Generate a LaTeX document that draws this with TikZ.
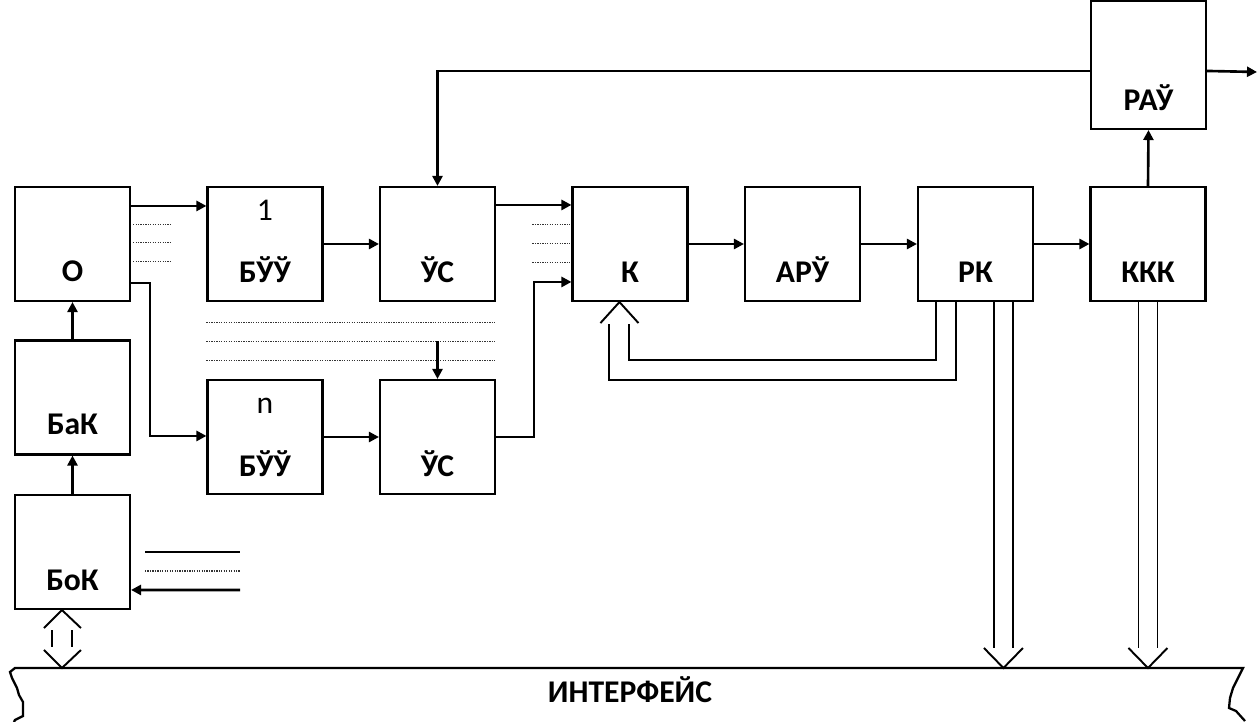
\documentclass[tikz,border=0pt]{standalone}
\usepackage{fontspec}
\setmainfont{Carlito}
\usetikzlibrary{calc,arrows.meta}
\begin{document}
\begin{tikzpicture}[x=0.02cm,y=-0.02cm,
  blk/.style={draw,line width=1.2pt,minimum width=2.3cm,minimum height=2.28cm,inner sep=0pt},
  lbl/.style={anchor=base,font=\fontsize{18}{21}\selectfont\bfseries,inner sep=0pt},
  num/.style={anchor=base,font=\fontsize{18}{21}\selectfont,inner sep=0pt},
  conn/.style={line width=1.5pt},
  arr/.style={conn,-{Triangle[length=0.2cm,width=0.2cm]}},
  dline/.style={line width=1.1pt},
  dot/.style={line width=0.6pt,dash pattern=on 0.7pt off 0.7pt,black!80}]
\useasboundingbox (0,0) rectangle (1258,722);
% boxes
\node[blk] (O)   at (72.5,244) {};
\node[blk] (BaK) at (72.5,397.5) {};
\node[blk] (BoK) at (72.5,552) {};
\node[blk] (B1)  at (265,244) {};
\node[blk] (S1)  at (437.5,244) {};
\node[blk] (K)   at (630,244) {};
\node[blk] (ARU) at (802.5,244) {};
\node[blk] (RK)  at (975.5,244) {};
\node[blk] (KKK) at (1148,244) {};
\node[blk,minimum height=2.56cm] (RAU) at (1148.5,65) {};
\node[blk] (Bn)  at (265,437) {};
\node[blk] (Sn)  at (437.5,437) {};
% labels
\node[lbl] (tO)   at (72.5,282) {O};
\node[lbl] (tBaK) at (72.5,435) {БаК};
\node[lbl] (tBoK) at (72.5,591) {БоК};
\node[num] (t1)   at (265,221) {1};
\node[lbl] (tB1)  at (265,283) {БЎЎ};
\node[lbl] (tS1)  at (437.5,283) {ЎС};
\node[lbl] (tK)   at (630,283) {К};
\node[lbl] (tARU) at (802.5,283) {АРЎ};
\node[lbl] (tRK)  at (975.5,283) {РК};
\node[lbl] (tKKK) at (1148,283) {ККК};
\node[lbl] (tRAU) at (1148.5,111) {РАЎ};
\node[num] (tn)   at (265,414) {n};
\node[lbl] (tBn)  at (265,477) {БЎЎ};
\node[lbl] (tSn)  at (437.5,477) {ЎС};
\node[lbl] (IF)   at (630,703) {ИНТЕРФЕЙС};
% interface bus
\coordinate (IFl) at (15,668);
\coordinate (IFr) at (1243,668);
\draw[line width=1.3pt] (14,722) -- (15,720) -- (23,716) -- (23,702) -- (19,695) -- (17,688) -- (12,678) -- (10,672) -- (IFl) -- (IFr) -- (1238,678) -- (1233,688) -- (1230,698) -- (1229,708) -- (1236,711) -- (1245,721);
% O outputs
\draw[arr] ($(O.north east)+(0,20)$) -- ($(B1.north west)+(0,20)$);
\foreach \dy in {39,57,76} \draw[dot] ($(O.north east)+(2,\dy)$) -- ++(38,0);
\draw[arr] ($(O.north east)+(0,97)$) -- ++(19,0) |- ($(Bn.north west)+(0,57)$);
% BUU -> US
\draw[arr] (B1.east) -- (S1.west);
\draw[arr] (Bn.east) -- (Sn.west);
% US -> K
\draw[arr] ($(S1.north east)+(0,19)$) -- ($(K.north west)+(0,19)$);
\foreach \dy in {39,58,77} \draw[dot] ($(K.north west)+(-39,\dy)$) -- ++(37,0);
\draw[arr] (Sn.east) -- ++(38,0) |- ($(K.north west)+(0,96)$);
% dotted middle lines
\foreach \dy in {20,39,58} \draw[dot] ($(B1.south west)+(0,\dy)$) -- ($(S1.south east)+(0,\dy)$);
\draw[arr] ($(S1.south)+(0,39)$) -- (Sn.north);
% chain
\draw[arr] (K.east) -- (ARU.west);
\draw[arr] (ARU.east) -- (RK.west);
\draw[arr] (RK.east) -- (KKK.west);
\draw[arr] (KKK.north) -- (RAU.south);
% RAU feedback and output
\draw[arr] ($(RAU.north west)+(0,71)$) -| (S1.north);
\coordinate (out) at (1257,72);
\draw[arr] ($(RAU.north east)+(0,71)$) -- (out);
% RK -> K double feedback
\draw[dline] ($(RK.south west)+(19,0)$) -- ++(0,58) -| ($(K.south west)+(58,22)$);
\draw[dline] ($(RK.south west)+(39,0)$) -- ++(0,78) -| ($(K.south west)+(38,22)$);
\draw[dline] ($(K.south west)+(29,21)$) -- ($(K.south west)+(48,0)$) -- ($(K.south west)+(67,21)$);
% RK -> interface
\draw[dline] ($(RK.south west)+(77,0)$) -- ($(RK.south west |- IFl)+(77,-20)$);
\draw[dline] ($(RK.south west)+(96,0)$) -- ($(RK.south west |- IFl)+(96,-20)$);
\draw[dline] ($(RK.south west |- IFl)+(67,-20)$) -- ($(RK.south west |- IFl)+(86.5,0)$) -- ($(RK.south west |- IFl)+(106,-20)$);
% KKK -> interface
\draw[dline] ($(KKK.south west)+(49,0)$) -- ($(KKK.south west |- IFl)+(49,-20)$);
\draw[dline] ($(KKK.south west)+(68,0)$) -- ($(KKK.south west |- IFl)+(68,-20)$);
\draw[dline] ($(KKK.south west |- IFl)+(39,-20)$) -- ($(KKK.south west |- IFl)+(58.5,0)$) -- ($(KKK.south west |- IFl)+(78,-20)$);
% BoK <-> interface
\draw[dline] ($(BoK.south west)+(30,18)$) -- ($(BoK.south west)+(48,0)$) -- ($(BoK.south west)+(67,18)$);
\draw[dline] ($(BoK.south west)+(38,20)$) -- ($(BoK.south west)+(38,37)$);
\draw[dline] ($(BoK.south west)+(58,20)$) -- ($(BoK.south west)+(58,37)$);
\draw[dline] ($(BoK.south west |- IFl)+(30,-18)$) -- ($(BoK.south west |- IFl)+(48,0)$) -- ($(BoK.south west |- IFl)+(67,-18)$);
% BaK, BoK up arrows
\draw[arr] (BaK.north) -- (O.south);
\draw[arr] (BoK.north) -- (BaK.south);
% BoK inputs
\coordinate (in1) at (145,552);
\coordinate (in1e) at (240,552);
\coordinate (in2) at (145,571);
\coordinate (in2e) at (240,571);
\coordinate (in3) at (240,590);
\draw[conn] (in1) -- (in1e);
\draw[dot] (in2) -- (in2e);
\draw[arr] (in3) -- ($(BoK.north east)+(0,96)$);
\end{tikzpicture}
\end{document}
